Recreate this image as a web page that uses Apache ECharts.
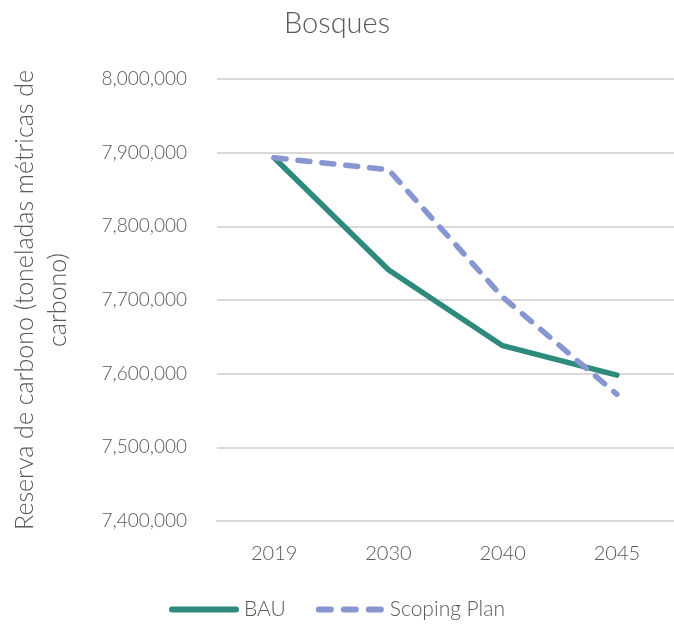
<!DOCTYPE html>
<html>
<head>
<meta charset="utf-8">
<script src="https://cdn.jsdelivr.net/npm/echarts@6/dist/echarts.min.js"></script>
<style>html,body{margin:0;padding:0;background:#fff}#c{width:674px;height:625px}</style>
</head>
<body>
<div id="c"></div>
<script>
const categories = ['2019', '2030', '2040', '2045'];
const bau = [7893000, 7741000, 7638000, 7598000];
const scopingPlan = [7893000, 7877000, 7704000, 7572000];
const yMin = 7400000, yMax = 8000000, yStep = 100000;
const titleText = 'Bosques';
const yAxisName = 'Reserva de carbono (toneladas métricas de\ncarbono)';
const seriesNames = ['BAU', 'Scoping Plan'];

const FONT = 'Lato';
const TXT = '#595959';
const C_BAU = '#2e8a7c';
const C_SP = '#8795d1';
const chart = echarts.init(document.getElementById('c'), null, {renderer: 'canvas'});
chart.setOption({
  animation: false,
  title: {
    text: titleText, left: 'center', top: 4,
    textStyle: {fontFamily: FONT, fontWeight: 300, fontSize: 29, color: TXT}
  },
  grid: {left: 213, right: 0, top: 79, bottom: 104, containLabel: false},
  legend: {
    bottom: 0, left: 'center', itemWidth: 70, itemHeight: 6, itemGap: 30,
    textStyle: {fontFamily: FONT, fontWeight: 300, fontSize: 21, color: TXT},
    data: [
      {name: seriesNames[0], icon: 'path://M3,0h64a3,3 0 0 1 0,6h-64a3,3 0 0 1 0,-6z', itemStyle: {color: C_BAU}},
      {name: seriesNames[1], icon: 'path://M3,0h12a3,3 0 0 1 0,6h-12a3,3 0 0 1 0,-6z M28,0h12a3,3 0 0 1 0,6h-12a3,3 0 0 1 0,-6z M53,0h12a3,3 0 0 1 0,6h-12a3,3 0 0 1 0,-6z', itemStyle: {color: C_SP}}
    ]
  },
  xAxis: {
    type: 'category', data: categories, boundaryGap: true,
    axisLine: {show: true, lineStyle: {color: '#d9d9d9', width: 2}},
    axisTick: {show: false},
    axisLabel: {fontFamily: FONT, fontWeight: 300, fontSize: 20, color: TXT, margin: 23}
  },
  yAxis: {
    type: 'value', min: yMin, max: yMax, interval: yStep,
    name: yAxisName, nameLocation: 'middle', nameRotate: 90, nameGap: 143,
    nameTextStyle: {fontFamily: FONT, fontWeight: 300, fontSize: 25, color: TXT, lineHeight: 33, align: 'center'},
    axisLine: {show: false}, axisTick: {show: false},
    splitLine: {lineStyle: {color: '#d9d9d9', width: 2}},
    axisLabel: {
      fontFamily: FONT, fontWeight: 300, fontSize: 19, color: TXT, margin: 30,
      formatter: v => v.toLocaleString('en-US')
    }
  },
  series: [
    {
      name: seriesNames[0], type: 'line', data: bau, symbol: 'none',
      lineStyle: {color: C_BAU, width: 5.5, cap: 'round', join: 'round'},
      itemStyle: {color: C_BAU}
    },
    {
      name: seriesNames[1], type: 'line', data: scopingPlan, symbol: 'none',
      lineStyle: {color: C_SP, width: 5.5, type: [12, 12], cap: 'round', join: 'round'},
      itemStyle: {color: C_SP}
    }
  ]
});
</script>
</body>
</html>
